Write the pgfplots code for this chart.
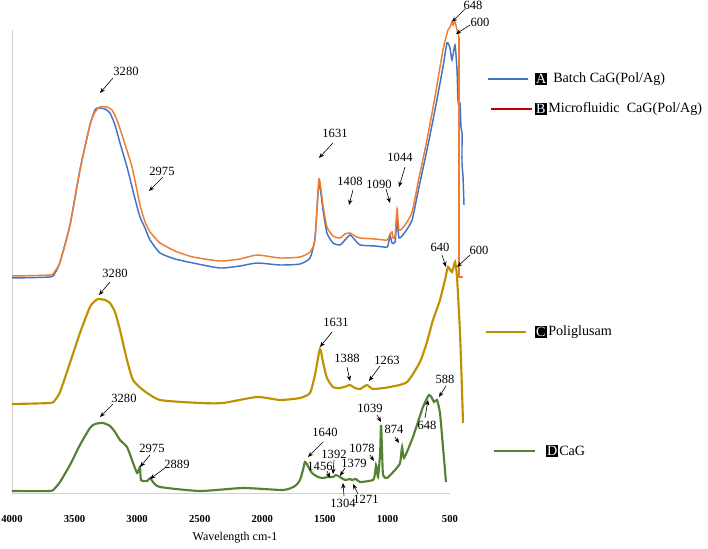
\documentclass[border=0pt]{standalone}
\usepackage{pgfplots}
\pgfplotsset{compat=1.18}
\usepackage{fontspec}
\setmainfont{Liberation Serif}
\usetikzlibrary{arrows.meta}
\definecolor{cA}{HTML}{4472C4}
\definecolor{cB}{HTML}{ED7D31}
\definecolor{cBleg}{HTML}{C00000}
\definecolor{cC}{HTML}{BF9000}
\definecolor{cD}{HTML}{548235}
\definecolor{axgray}{HTML}{D0D0D0}
\begin{document}
\begin{tikzpicture}
\begin{axis}[
 scale only axis, width=328.5pt, height=347.25pt,
 xmin=500, xmax=4000, x dir=reverse, ymin=0, ymax=463,
 axis x line=bottom, axis y line=left,
 axis line style={axgray, line width=0.6pt, -},
 clip=false,
 xtick={500,1000,...,4000}, ytick=\empty,
 major tick length=0pt,
 /pgf/number format/assume math mode=true,
 /pgf/number format/1000 sep={},
 xticklabel style={font=\bfseries\fontsize{8}{9}\selectfont, anchor=center, yshift=-19.5pt},
 xlabel={Wavelength cm-1},
 xlabel style={font=\fontsize{9}{10}\selectfont, at={(axis description cs:0.5,0)}, anchor=center, yshift=-33.5pt, xshift=3pt},
 every axis plot/.append style={smooth, tension=0.35},
]
% A Batch
\addplot[cA, line width=1.1pt] coordinates {
(4000,215)(3696,216)(3656,220)(3616,231)(3537,268)(3457,323)(3377,368)(3337,383)(3313,385)(3257,384)(3217,380)(3177,368)(3137,350)(3081,326)(3025,298)(2977,276)(2937,265)(2921,260)(2897,253)(2817,240)(2697,234)(2554,230)(2338,225)(2178,227)(2042,230)(1858,228)(1699,229)(1619,235)(1579,255)(1547,310)(1515,283)(1483,260)(1435,250)(1379,248)(1339,253)(1299,258)(1259,253)(1219,248)(1099,247)(1003,246)(987,253)(979,258)(963,250)(939,251)(923,273)(907,255)(859,261)(803,273)(756,301)(684,343)(620,383)(556,426)(524,450)(500,445)(484,433)(460,448)(444,423)(436,393)(428,386)(420,390)(412,366)(404,360)(404,330)(396,316)(388,288)
};
% B Microfluidic
\addplot[cB, line width=1.1pt] coordinates {
(4000,217)(3696,218)(3656,222)(3616,231)(3537,267)(3457,323)(3377,368)(3337,381)(3297,386)(3241,386)(3201,383)(3161,373)(3121,358)(3041,326)(2977,288)(2937,271)(2921,267)(2897,261)(2817,250)(2697,242)(2554,236)(2338,232)(2178,234)(2042,238)(1858,235)(1699,236)(1619,241)(1579,253)(1547,314)(1515,288)(1483,266)(1435,257)(1379,255)(1339,259)(1299,260)(1259,257)(1219,255)(1099,254)(1003,253)(979,259)(963,261)(955,255)(939,257)(923,284)(907,263)(859,268)(803,281)(756,310)(684,353)(620,396)(556,443)(516,463)(500,466)(484,471)(476,468)(460,471)(444,463)(428,456)
};
\addplot[cB, line width=1.1pt, sharp plot, forget plot] coordinates {(428,456)(428,216)(396,216)};
% C Poliglusam
\addplot[cC, line width=1.6pt] coordinates {
(4000,89)(3696,90)(3656,93)(3616,101)(3537,130)(3457,160)(3377,186)(3337,192)(3313,194)(3257,193)(3217,190)(3177,181)(3137,163)(3081,133)(3033,113)(2953,103)(2817,93)(2498,90)(2314,90)(2042,96)(1858,93)(1699,95)(1619,100)(1579,118)(1539,144)(1515,131)(1483,115)(1435,106)(1379,105)(1323,107)(1299,108)(1259,105)(1219,104)(1163,108)(1115,104)(979,106)(843,111)(740,131)(684,151)(636,173)(580,193)(540,213)(516,226)(484,221)(460,231)(444,216)(420,160)(404,103)(396,70)
};
% D CaG
\addplot[cD, line width=1.6pt] coordinates {
(4000,2)(3696,2)(3656,5)(3616,11)(3537,28)(3457,48)(3377,65)(3337,69)(3273,70)(3217,67)(3177,61)(3137,53)(3081,46)(3041,33)(3001,20)(2985,24)(2977,26)(2969,13)(2921,12)(2897,15)(2873,11)(2817,6)(2498,2)(2154,5)(1834,3)(1738,7)(1699,13)(1675,23)(1659,31)(1635,27)(1603,20)(1555,16)(1515,15)(1475,16)(1435,16)(1411,18)(1379,16)(1339,13)(1299,14)(1283,13)(1251,14)(1219,11)(1115,13)(1099,20)(1091,28)(1083,23)(1075,16)(1059,38)(1051,68)(1043,43)(1035,18)(1003,15)(939,23)(899,30)(883,46)(867,35)(796,56)(716,86)(668,98)(644,95)(628,91)(604,93)(580,80)(556,46)(532,11)
};
\coordinate (O) at (axis cs:4095.9,493);
\end{axis}
\begin{scope}[shift={(O)}, x=0.75pt, y=-0.75pt,
  lab/.style={font=\fontsize{9.4}{10}\selectfont, inner sep=0pt},
  arr/.style={-{Stealth[length=4pt,width=3.2pt]}, line width=0.45pt, black},
  leg/.style={font=\fontsize{10.6}{12}\selectfont, inner sep=0pt, anchor=west},
  box/.style={font=\fontsize{10.6}{12}\selectfont, fill=black, text=white, inner sep=0.7pt, anchor=west}]
\pgfresetboundingbox
\path[use as bounding box] (0,0) rectangle (708,549);
% top annotations
\node[lab] at (126,71) {3280}; \draw[arr] (113,78) -- (100,93);
\node[lab] at (162,171) {2975}; \draw[arr] (163,177) -- (149,191);
\node[lab] at (335,133) {1631}; \draw[arr] (333,143) -- (319,158);
\node[lab] at (350,181) {1408}; \draw[arr] (353,190) -- (349,205);
\node[lab] at (379,184) {1090}; \draw[arr] (386,189) -- (390,203);
\node[lab] at (400,157) {1044}; \draw[arr] (405,167) -- (399,187);
\node[lab] at (473,5) {648}; \draw[arr] (465,9) -- (452,22);
\node[lab] at (480,22) {600}; \draw[arr] (470,25) -- (456,34);
% middle annotations
\node[lab] at (115,273) {3280}; \draw[arr] (110,282) -- (99,295);
\node[lab] at (440,247) {640}; \draw[arr] (442,255) -- (446,267);
\node[lab] at (479,250) {600}; \draw[arr] (470,255) -- (457,267);
\node[lab] at (336,322) {1631}; \draw[arr] (332,332) -- (320,347);
\node[lab] at (347,358) {1388}; \draw[arr] (347,367) -- (350,381);
\node[lab] at (387,360) {1263}; \draw[arr] (380,366) -- (369,381);
% bottom annotations
\node[lab] at (124,398) {3280}; \draw[arr] (113,404) -- (100,417);
\node[lab] at (152,448) {2975}; \draw[arr] (150,455) -- (140,467);
\node[lab] at (177,464) {2889}; \draw[arr] (165,468) -- (150,479);
\node[lab] at (325,432) {1640}; \draw[arr] (323,442) -- (308,457);
\node[lab] at (320,466) {1456}; \draw[arr] (327,471) -- (330,478);
\node[lab] at (334,454) {1392}; \draw[arr] (334,460) -- (333,474);
\node[lab] at (354,463) {1379}; \draw[arr] (345,468) -- (340,476);
\node[lab] at (343,503) {1304}; \draw[arr] (344,496) -- (343,483);
\node[lab] at (366,499) {1271}; \draw[arr] (358,494) -- (353,484);
\node[lab] at (362,448) {1078}; \draw[arr] (370,455) -- (374,461);
\node[lab] at (370,408) {1039}; \draw[arr] (377,415) -- (381,422);
\node[lab] at (394,429) {874}; \draw[arr] (395,437) -- (399,443);
\node[lab] at (427,425) {648}; \draw[arr] (425,418) -- (428,400);
\node[lab] at (445,379) {588}; \draw[arr] (446,386) -- (439,397);
% legend
\draw[cA, line width=1.1pt] (488,79) -- (528,79);
\node[box] at (535,79) {A}; \node[leg] at (553,79) {Batch CaG(Pol/Ag)};
\draw[cBleg, line width=1.1pt] (491,109) -- (532,109);
\node[box] at (535,109) {B}; \node[leg] at (548,109) {Microfluidic\ \ CaG(Pol/Ag)};
\draw[cC, line width=1.1pt] (486,332) -- (526,332);
\node[box] at (535,332) {C}; \node[leg] at (548,332) {Poliglusam};
\draw[cD, line width=1.1pt] (494,451) -- (535,451);
\node[box] at (546,451) {D}; \node[leg] at (559,451) {CaG};
\end{scope}
\end{tikzpicture}
\end{document}
